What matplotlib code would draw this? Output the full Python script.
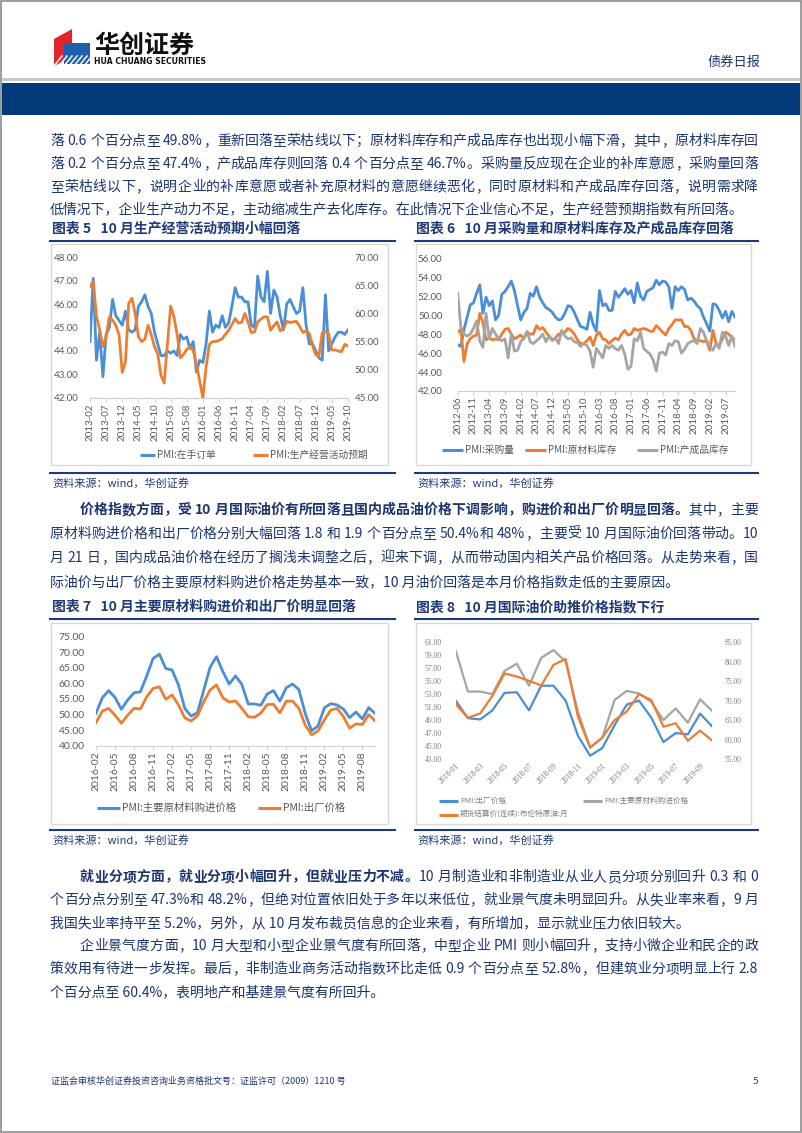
import re
import numpy as np
import matplotlib
matplotlib.use('Agg')
import matplotlib.pyplot as plt
from matplotlib.patches import Rectangle, Polygon

W, H = 802, 1133
CJK = ['Noto Sans CJK SC', 'DejaVu Sans']
NUM = ['Lato', 'DejaVu Sans']
NAVY = '#1b3470'
BLUE = '#4a8fd6'
ORANGE = '#ed7d31'
GRAY = '#a5a5a5'
TICK = '#595959'

# chart 5: 2013-02 .. 2019-10
ticks5 = ['2013-02', '2013-07', '2013-12', '2014-05', '2014-10', '2015-03', '2015-08', '2016-01',
          '2016-06', '2016-11', '2017-04', '2017-09', '2018-02', '2018-07', '2018-12', '2019-05', '2019-10']
orders_on_hand = [44.4, 47.1, 43.6, 44.8, 42.9, 44.7, 45.0, 46.2, 45.5, 45.3, 45.1, 45.7, 44.9, 44.8,
                  44.9, 45.9, 46.1, 46.4, 45.9, 45.6, 44.8, 44.3, 43.8, 43.8, 44.0, 43.9, 44.0, 43.8,
                  44.7, 44.5, 44.6, 44.1, 44.4, 43.1, 43.6, 43.5, 44.3, 45.7, 44.8, 45.1, 45.0, 45.5,
                  45.0, 45.2, 45.9, 46.7, 46.3, 46.3, 46.1, 46.1, 45.1, 45.0, 47.2, 46.3, 46.1, 47.4,
                  45.6, 46.6, 46.3, 45.5, 44.9, 46.0, 46.2, 45.9, 45.6, 45.7, 46.7, 45.1, 44.3, 44.3,
                  44.0, 43.7, 43.6, 46.4, 44.0, 44.3, 44.6, 44.8, 44.8, 44.7, 44.9]
business_expect = [64.8, 65.7, 59.5, 57.1, 54.1, 55.8, 59.4, 58.8, 57.9, 56.2, 49.5, 51.4, 61.8, 62.7,
                   60.0, 55.9, 55.0, 55.4, 57.9, 56.2, 54.1, 52.8, 49.0, 47.6, 54.5, 61.3, 59.5, 56.3,
                   52.1, 52.7, 53.6, 54.1, 53.4, 51.0, 48.0, 45.0, 50.5, 54.5, 55.0, 55.0, 55.2, 55.5,
                   56.3, 57.0, 58.0, 59.1, 58.3, 58.4, 60.0, 58.5, 56.6, 56.7, 58.5, 59.0, 59.4, 59.4,
                   57.0, 57.8, 58.5, 56.9, 57.3, 58.6, 58.4, 58.5, 58.6, 57.7, 56.6, 56.9, 56.4, 54.3,
                   52.6, 52.5, 56.5, 56.8, 56.4, 53.5, 53.5, 53.3, 53.2, 54.5, 54.2]

# chart 6: 2012-06 .. 2019-10
ticks6 = ['2012-06', '2012-11', '2013-04', '2013-09', '2014-02', '2014-07', '2014-12', '2015-05', '2015-10',
          '2016-03', '2016-08', '2017-01', '2017-06', '2017-11', '2018-04', '2018-09', '2019-02', '2019-07']
purchase = [46.9, 46.7, 48.5, 49.8, 51.1, 51.3, 52.3, 53.2, 50.2, 51.9, 51.0, 51.5, 49.5, 50.0, 52.2,
            52.5, 53.0, 53.6, 52.6, 51.0, 49.5, 50.3, 50.7, 52.3, 52.0, 53.0, 51.9, 51.3, 50.8, 50.6,
            50.3, 49.8, 49.5, 49.6, 50.2, 51.0, 50.9, 50.3, 49.5, 48.8, 48.7, 48.5, 50.3, 49.0, 48.3,
            52.6, 51.0, 51.2, 50.5, 50.5, 52.5, 51.9, 52.3, 52.8, 52.2, 52.6, 51.3, 53.4, 52.0, 51.6,
            52.5, 52.7, 52.9, 53.7, 53.2, 53.6, 53.5, 53.0, 50.7, 53.0, 52.6, 53.0, 52.7, 51.6, 51.8,
            51.5, 51.0, 50.7, 49.8, 49.1, 48.3, 51.2, 51.1, 50.5, 49.7, 50.4, 49.3, 50.4, 49.8]
raw_stock = [48.2, 48.5, 45.1, 47.0, 47.5, 47.8, 47.9, 50.2, 49.2, 47.4, 47.6, 47.4, 47.5, 47.4, 48.0,
             48.5, 48.6, 48.0, 47.5, 47.7, 47.9, 47.5, 48.2, 48.0, 48.0, 48.9, 48.5, 48.7, 48.2, 47.8,
             47.4, 47.6, 48.0, 48.1, 48.2, 48.6, 48.4, 48.0, 47.4, 47.0, 47.0, 47.3, 47.7, 46.8, 47.9,
             48.2, 47.5, 47.4, 47.0, 47.3, 47.6, 47.4, 48.0, 48.4, 47.9, 48.0, 48.6, 48.4, 48.5, 48.6,
             48.5, 48.3, 48.3, 48.9, 48.6, 48.2, 47.9, 48.6, 49.0, 49.5, 49.5, 49.5, 48.8, 48.8, 48.4,
             47.5, 47.3, 47.3, 47.2, 47.3, 46.3, 48.4, 47.0, 46.8, 47.5, 48.2, 48.0, 47.6, 47.4]
finished_stock = [52.3, 48.7, 48.0, 47.8, 48.0, 48.6, 49.4, 47.3, 46.6, 50.2, 47.5, 48.6, 48.0, 47.5,
                  47.3, 47.5, 45.5, 48.0, 46.2, 46.3, 47.2, 47.6, 48.3, 47.2, 47.0, 47.3, 47.6, 48.0,
                  47.2, 47.8, 47.3, 47.6, 47.0, 48.4, 47.8, 47.5, 47.6, 47.2, 47.1, 46.7, 47.0, 46.8,
                  46.2, 44.5, 46.5, 46.0, 45.5, 46.8, 46.5, 46.8, 46.5, 46.3, 46.8, 45.9, 44.3, 44.6,
                  47.5, 47.3, 48.2, 46.5, 46.2, 45.9, 45.3, 44.1, 46.0, 46.1, 45.8, 47.0, 46.8, 47.3,
                  47.2, 46.0, 46.4, 47.0, 47.2, 47.3, 47.0, 48.6, 48.2, 47.3, 46.8, 46.3, 47.0, 46.5,
                  48.2, 47.8, 46.8, 47.8, 46.7]

# chart 7: 2016-02 .. 2019-10
ticks7 = ['2016-02', '2016-05', '2016-08', '2016-11', '2017-02', '2017-05', '2017-08', '2017-11',
          '2018-02', '2018-05', '2018-08', '2018-11', '2019-02', '2019-05', '2019-08']
input_price = [50.4, 55.4, 57.7, 55.5, 51.7, 54.7, 57.0, 57.3, 62.4, 68.0, 69.4, 64.8, 64.3, 59.5,
               52.0, 49.5, 50.6, 57.9, 65.2, 68.6, 63.8, 59.8, 62.4, 59.7, 53.4, 53.4, 53.0, 56.6,
               57.7, 54.3, 58.6, 59.8, 58.0, 50.3, 44.8, 46.3, 52.1, 53.5, 53.1, 51.8, 49.0, 50.8,
               48.6, 52.2, 50.4]
output_price = [47.4, 51.1, 52.0, 49.8, 47.2, 49.8, 52.0, 51.8, 55.7, 58.4, 58.9, 54.9, 56.3, 53.1,
                49.0, 47.9, 49.6, 54.1, 57.9, 59.5, 55.4, 54.0, 54.4, 52.0, 49.3, 49.1, 50.5, 53.2,
                53.3, 50.5, 54.3, 54.3, 52.0, 46.6, 43.5, 44.7, 48.2, 51.4, 52.0, 49.4, 45.6, 47.0,
                46.8, 50.0, 48.0]

# chart 8: 2018-01 .. 2019-10
ticks8 = ['2018-01', '2018-03', '2018-05', '2018-07', '2018-09', '2018-11', '2019-01', '2019-03',
          '2019-05', '2019-07', '2019-09']
brent = [69.1, 65.6, 66.7, 71.2, 77.0, 76.2, 75.1, 73.9, 79.2, 80.7, 65.9, 57.9, 60.5, 65.0, 67.2,
         71.7, 70.2, 63.3, 64.2, 59.7, 62.3, 59.7]
start8 = 23  # 2018-01 inside chart 7 series


def rect(x0, y0, x1, y1):
    return [x0 / W, 1 - y1 / H, (x1 - x0) / W, (y1 - y0) / H]


fig = plt.figure(figsize=(W / 100, H / 100), dpi=100)
bg = fig.add_axes([0, 0, 1, 1])
bg.set_xlim(0, W)
bg.set_ylim(H, 0)
bg.axis('off')
renderer = fig.canvas.get_renderer()

# page frame and header
bg.add_patch(Rectangle((1, 1), W - 2.5, H - 2.5, fill=False, ec='#8c8c8c', lw=1.2))
bg.add_patch(Rectangle((2, 78), W - 4, 3, color='#c9c9c9', lw=0))
bg.add_patch(Rectangle((2, 83), W - 4, 32, color='#033a7a', lw=0))
bg.add_patch(Polygon([(54, 39), (72, 29), (72, 57), (54, 66)], color='#e0262b', lw=0))
bg.add_patch(Polygon([(64, 43), (90, 43), (90, 64), (64, 64)], color='#1f5fae', lw=0))
for k in range(7):
    bg.plot([54 + k * 5, 62 + k * 5], [66, 56], color='white', lw=1.1)
bg.text(94, 46, '华创证券', fontsize=18, fontweight='heavy', family=CJK, color='#111111', va='center')
bg.text(94, 62, 'HUA CHUANG SECURITIES', fontsize=5.6, fontweight='bold',
        family=['Liberation Sans Narrow', 'DejaVu Sans'], color='#111111', va='center')
bg.text(760, 62, '债券日报', fontsize=9.5, family=CJK, color=NAVY, va='center', ha='right')


def put_line(x0, x1, y, parts, justify=True, fs=10):
    if not justify:
        s = ''.join(p for p, _ in parts)
        bg.text(x0, y, s, fontsize=fs, family=CJK, color=NAVY, va='center')
        return
    items = []
    for s, w in parts:
        for tk in re.findall(r'[0-9A-Za-z.%]+|\s|\S', s):
            if tk == ' ':
                items.append((None, fs * 0.35))
                continue
            t = bg.text(0, y, tk, fontsize=fs, fontweight=w, family=CJK, color=NAVY, va='center')
            items.append((t, t.get_window_extent(renderer).width))
    total = sum(wd for _, wd in items)
    gap = (x1 - x0 - total) / (len(items) - 1)
    x = x0
    for t, wd in items:
        if t is not None:
            t.set_x(x)
        x += wd + gap


def paragraph(lines, ys, indent=False, bold_head=''):
    for k, (s, y) in enumerate(zip(lines, ys)):
        x0 = 80 if (indent and k == 0) else 50
        parts = [(s, 'normal')]
        if k == 0 and bold_head:
            parts = [(bold_head, 'bold'), (s, 'normal')]
        put_line(x0, 758, y, parts, justify=(k < len(lines) - 1))


paragraph(['落 0.6 个百分点至 49.8%，重新回落至荣枯线以下；原材料库存和产成品库存也出现小幅下滑，其中，原材料库存回',
           '落 0.2 个百分点至 47.4%，产成品库存则回落 0.4 个百分点至 46.7%。采购量反应现在企业的补库意愿，采购量回落',
           '至荣枯线以下，说明企业的补库意愿或者补充原材料的意愿继续恶化，同时原材料和产成品库存回落，说明需求降',
           '低情况下，企业生产动力不足，主动缩减生产去化库存。在此情况下企业信心不足，生产经营预期指数有所回落。'],
          [141, 164, 187, 210])
paragraph(['其中，主要',
           '原材料购进价格和出厂价格分别大幅回落 1.8 和 1.9 个百分点至 50.4%和 48%，主要受 10 月国际油价回落带动。10',
           '月 21 日，国内成品油价格在经历了搁浅未调整之后，迎来下调，从而带动国内相关产品价格回落。从走势来看，国',
           '际油价与出厂价格主要原材料购进价格走势基本一致，10 月油价回落是本月价格指数走低的主要原因。'],
          [510, 534, 558, 582], indent=True,
          bold_head='价格指数方面，受 10 月国际油价有所回落且国内成品油价格下调影响，购进价和出厂价明显回落。')
paragraph(['10 月制造业和非制造业从业人员分项分别回升 0.3 和 0',
           '个百分点分别至 47.3%和 48.2%，但绝对位置依旧处于多年以来低位，就业景气度未明显回升。从失业率来看，9 月',
           '我国失业率持平至 5.2%，另外，从 10 月发布裁员信息的企业来看，有所增加，显示就业压力依旧较大。'],
          [877, 900, 923], indent=True, bold_head='就业分项方面，就业分项小幅回升，但就业压力不减。')
paragraph(['企业景气度方面，10 月大型和小型企业景气度有所回落，中型企业 PMI 则小幅回升，支持小微企业和民企的政',
           '策效用有待进一步发挥。最后，非制造业商务活动指数环比走低 0.9 个百分点至 52.8%，但建筑业分项明显上行 2.8',
           '个百分点至 60.4%，表明地产和基建景气度有所回升。'],
          [946, 969, 992], indent=True)

bg.text(51, 1081, '证监会审核华创证券投资咨询业务资格批文号：证监许可（2009）1210 号', fontsize=6.5,
        family=CJK, color=NAVY, va='center')
bg.text(758, 1081, '5', fontsize=7, family=NUM, color=NAVY, va='center', ha='right')

# chart frames, titles, sources
frames = [(50, 395, 241, 244, 465, 473, 52, '图表 5   10 月生产经营活动预期小幅回落'),
          (415, 758, 241, 244, 465, 473, 416, '图表 6   10 月采购量和原材料库存及产成品库存回落'),
          (50, 395, 619, 623, 824, 830, 52, '图表 7   10 月主要原材料购进价和出厂价明显回落'),
          (415, 758, 619, 623, 824, 830, 416, '图表 8   10 月国际油价助推价格指数下行')]
for x0, x1, yt, yb0, yb1, ys, xt, title in frames:
    bg.text(xt, yt - 12, title, fontsize=10, fontweight='bold', family=CJK, color='#1f3a78', va='center')
    bg.plot([x0, x1], [yt, yt], color='#1f3a78', lw=1.5)
    bg.add_patch(Rectangle((x0 + 1, yb0), x1 - x0 - 8, yb1 - yb0, fill=False, ec='#d9d9d9', lw=1))
    bg.plot([x0, x1], [ys, ys], color='#1f3a78', lw=1.5)
    bg.text(x0 + 2, ys + 10, '资料来源：wind，华创证券', fontsize=8, style='italic', family=CJK,
            color='#1f3a78', va='center')


def style(ax, fs=7, rot=90, pad_y=8):
    for s in ['top', 'left', 'right']:
        ax.spines[s].set_visible(False)
    ax.spines['bottom'].set_color('#d0d0d0')
    ax.patch.set_alpha(0)
    ax.tick_params(axis='y', length=0, labelsize=fs, labelcolor=TICK, pad=pad_y)
    ax.tick_params(axis='x', length=3, color='#d0d0d0', labelsize=fs, labelcolor=TICK, pad=1)
    for lb in ax.get_yticklabels():
        lb.set_family(NUM)
    for lb in ax.get_xticklabels():
        lb.set_family(NUM)
        lb.set_rotation(rot)


def legend(items, fs=7, color=TICK, seg=15):
    for x, y, c, label in items:
        bg.plot([x, x + seg], [y, y], color=c, lw=2.2, solid_capstyle='butt')
        bg.text(x + seg + 2, y, label, fontsize=fs, family=CJK, color=color, va='center')


# chart 5
ax = fig.add_axes(rect(90, 257.3, 348, 397.7))
x5 = np.arange(len(orders_on_hand))
ax.plot(x5, orders_on_hand, color=BLUE, lw=2)
ax.set_xlim(0, 80)
ax.set_ylim(42, 48)
ax.set_yticks(np.arange(42, 48.5, 1))
ax.yaxis.set_major_formatter('{x:.2f}')
ax.set_xticks(np.arange(0, len(x5), 5))
ax.set_xticklabels(ticks5)
ax2 = ax.twinx()
ax2.plot(x5, business_expect, color=ORANGE, lw=2)
ax2.set_ylim(45, 70)
ax2.set_yticks(np.arange(45, 71, 5))
ax2.yaxis.set_major_formatter('{x:.2f}')
style(ax)
style(ax2, pad_y=5)
legend([(140, 455, BLUE, 'PMI:在手订单'), (253, 455, ORANGE, 'PMI:生产经营活动预期')])

# chart 6
ax = fig.add_axes(rect(457.7, 258.3, 735, 391))
x6 = np.arange(len(purchase))
ax.plot(x6, purchase, color=BLUE, lw=2)
ax.plot(x6, raw_stock, color=ORANGE, lw=2)
ax.plot(x6, finished_stock, color=GRAY, lw=2)
ax.set_xlim(0, 88)
ax.set_ylim(42, 56)
ax.set_yticks(np.arange(42, 56.5, 2))
ax.yaxis.set_major_formatter('{x:.2f}')
ax.set_xticks(np.arange(0, len(x6), 5))
ax.set_xticklabels(ticks6)
style(ax, pad_y=11)
legend([(442, 450, BLUE, 'PMI:采购量'), (525, 450, ORANGE, 'PMI:原材料库存'),
        (637, 450, GRAY, 'PMI:产成品库存')], seg=21)

# chart 7
ax = fig.add_axes(rect(96, 636.7, 375, 745.7))
x7 = np.arange(len(input_price))
ax.plot(x7, input_price, color=BLUE, lw=2)
ax.plot(x7, output_price, color=ORANGE, lw=2)
ax.set_xlim(0, 44)
ax.set_ylim(40, 75)
ax.set_yticks(np.arange(40, 76, 5))
ax.yaxis.set_major_formatter('{x:.2f}')
ax.set_xticks(np.arange(0, len(x7), 3))
ax.set_xticklabels(ticks7)
style(ax, fs=7.5, pad_y=8)
legend([(97, 808, BLUE, 'PMI:主要原材料购进价格'), (258, 808, ORANGE, 'PMI:出厂价格')], fs=7.5, seg=23)

# chart 8
ax = fig.add_axes(rect(455.7, 642.3, 712.3, 759))
x8 = np.arange(len(brent))
ax.plot(x8, output_price[start8:], color=BLUE, lw=1.6)
ax.plot(x8, input_price[start8:], color=GRAY, lw=1.6)
ax.set_xlim(0, 21)
ax.set_ylim(43, 61)
ax.set_yticks(np.arange(43, 61.5, 2))
ax.yaxis.set_major_formatter('{x:.2f}')
ax.set_xticks(np.arange(0, len(x8), 2))
ax.set_xticklabels(ticks8)
ax2 = ax.twinx()
ax2.plot(x8, brent, color=ORANGE, lw=1.6)
ax2.set_ylim(55, 85)
ax2.set_yticks(np.arange(55, 86, 5))
ax2.yaxis.set_major_formatter('{x:.2f}')
for a, p in [(ax, 10), (ax2, 9)]:
    style(a, fs=5.5, rot=45, pad_y=p)
    a.spines['bottom'].set_visible(False)
    a.tick_params(axis='x', length=0, pad=2)
    for lb in a.get_xticklabels() + a.get_yticklabels():
        lb.set_family(['Liberation Serif', 'DejaVu Serif'])
        lb.set_color('#7f7f7f')
for lb in ax.get_xticklabels():
    lb.set_ha('right')
    lb.set_rotation_mode('anchor')
legend([(439, 801, BLUE, 'PMI:出厂价格'), (583, 801, GRAY, 'PMI:主要原材料购进价格'),
        (439, 815, ORANGE, '期货结算价(连续):布伦特原油:月')], fs=5.5, color='#7f7f7f', seg=19)

fig.savefig('out.png', dpi=100)
